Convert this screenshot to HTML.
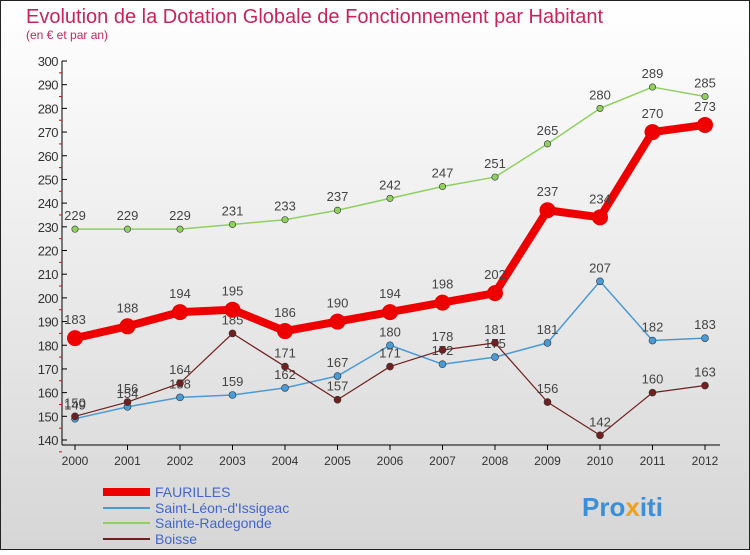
<!DOCTYPE html>
<html><head><meta charset="utf-8"><style>
body{margin:0;width:750px;height:550px;overflow:hidden;font-family:"Liberation Sans",sans-serif}
</style></head><body>
<svg width="750" height="550" xmlns="http://www.w3.org/2000/svg">
<defs><linearGradient id="bg" x1="0" y1="0" x2="0" y2="1"><stop offset="0" stop-color="#ffffff"/><stop offset="1" stop-color="#d6d6d6"/></linearGradient></defs>
<rect x="0.5" y="0.5" width="749" height="549" fill="url(#bg)" stroke="#222"/>
<text x="26" y="23" font-size="20" fill="#c8245a">Evolution de la Dotation Globale de Fonctionnement par Habitant</text>
<text x="26" y="39" font-size="12" fill="#c8245a">(en € et par an)</text>
<g id="axes"></g><g id="series"></g>
<g>
<line x1="103" y1="492" x2="150" y2="492" stroke="#ee0000" stroke-width="8"/>
<text x="155" y="497" font-size="14" fill="#4466cc">FAURILLES</text>
<line x1="103" y1="508" x2="150" y2="508" stroke="#4a9ad6" stroke-width="2"/>
<text x="155" y="513" font-size="14" fill="#4466cc">Saint-Léon-d'Issigeac</text>
<line x1="103" y1="523" x2="150" y2="523" stroke="#90d060" stroke-width="2"/>
<text x="155" y="528" font-size="14" fill="#4466cc">Sainte-Radegonde</text>
<line x1="103" y1="539" x2="150" y2="539" stroke="#702020" stroke-width="2"/>
<text x="155" y="544" font-size="14" fill="#4466cc">Boisse</text>
</g>
<text x="582" y="516" font-size="26" font-weight="bold" fill="#3a8fd8">Pro<tspan fill="#f0a020">x</tspan>iti</text>
</svg>
<script>
const years=[2000,2001,2002,2003,2004,2005,2006,2007,2008,2009,2010,2011,2012];
const yTicks=[140,150,160,170,180,190,200,210,220,230,240,250,260,270,280,290,300];
const faurilles=[183,188,194,195,186,190,194,198,202,237,234,270,273];
const saintLeon=[149,154,158,159,162,167,180,172,175,181,207,182,183];
const radegonde=[229,229,229,231,233,237,242,247,251,265,280,289,285];
const boisse=[150,156,164,185,171,157,171,178,181,156,142,160,163];
const NS="http://www.w3.org/2000/svg";
const X=i=>75+i*52.5, Y=v=>440-(v-140)*(379/160);
function mk(t,a,p){const e=document.createElementNS(NS,t);for(const k in a)e.setAttribute(k,a[k]);p.appendChild(e);return e;}
const ax=document.getElementById('axes');
let yl=mk('line',{x1:62,y1:61,x2:62,y2:445,stroke:'#000'},ax);


yTicks.forEach(v=>{mk('line',{x1:62,y1:Y(v),x2:67,y2:Y(v),stroke:'#000'},ax);
 mk('line',{x1:59,y1:Y(v)+11.85,x2:62,y2:Y(v)+11.85,stroke:'#e00'},ax);
 const t=mk('text',{x:58,y:Y(v)+5,'font-size':13,'text-anchor':'end',fill:'#333','letter-spacing':'-0.5'},ax);t.textContent=v;
 
 });
let xl=mk('line',{x1:62,y1:445,x2:720,y2:445,stroke:'#000'},ax);


years.forEach((y,i)=>{mk('line',{x1:X(i),y1:445,x2:X(i),y2:450,stroke:'#000'},ax);
 const t=mk('text',{x:X(i),y:465,'font-size':12,'text-anchor':'middle',fill:'#333'},ax);t.textContent=y;
 
 });
const sg=document.getElementById('series');
function draw(d,col,w,r,name){
 const g=mk('g',{},sg);
 
 
 mk('polyline',{points:d.map((v,i)=>X(i)+','+Y(v)).join(' '),fill:'none',stroke:col,'stroke-width':w,'stroke-linejoin':'round'},g);
 d.forEach((v,i)=>{const c=mk('circle',{cx:X(i),cy:Y(v),r:r,fill:col,stroke:'#333','stroke-width':r>5?0:0.6},g);
  
  
  const t=mk('text',{x:X(i),y:Y(v)-(r>5?14:9),'font-size':13,'text-anchor':'middle',fill:'#444'},g);t.textContent=v;
  
  });
}
draw(radegonde,'#90d060',1.5,3.2,'sainte-radegonde');
draw(saintLeon,'#4a9ad6',1.5,3.5,'saint-leon');
draw(boisse,'#702020',1.2,3.5,'boisse');
draw(faurilles,'#ee0000',8,8,'faurilles');
</script>
</body></html>
